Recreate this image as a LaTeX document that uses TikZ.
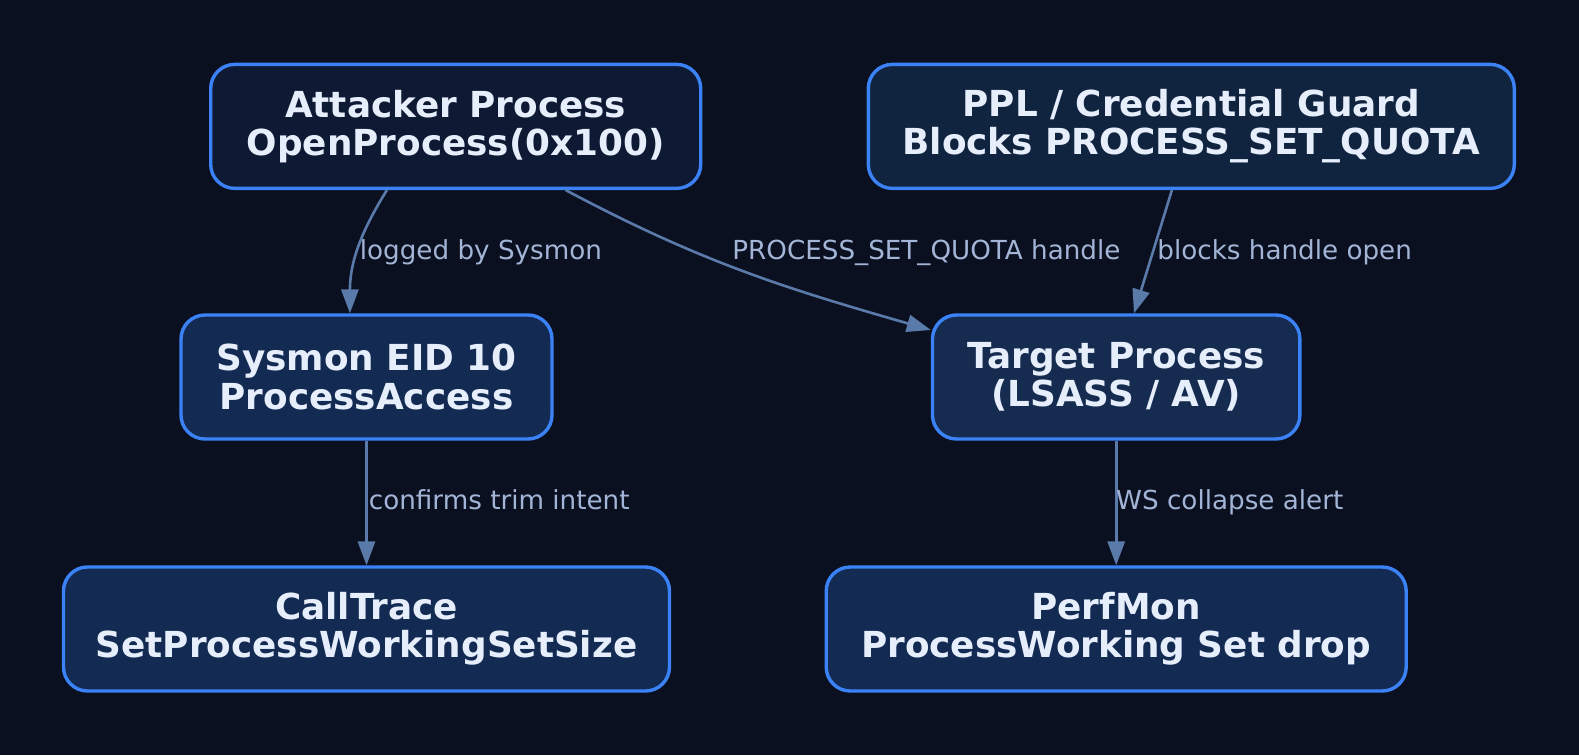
\documentclass[tikz,border=0pt]{standalone}
\usepackage{fontspec}
\setmainfont{DejaVu Sans}
\usetikzlibrary{arrows.meta}

\definecolor{bgdark}{HTML}{0B1020}
\definecolor{boxedge}{HTML}{3B82F6}
\definecolor{fillatk}{HTML}{0E1A33}
\definecolor{fillppl}{HTML}{11243F}
\definecolor{fillmid}{HTML}{132A52}
\definecolor{filltgt}{HTML}{152B4F}
\definecolor{boxtext}{HTML}{E6EEFB}
\definecolor{wire}{HTML}{5A7BAA}
\definecolor{wiretext}{HTML}{A3B5D6}

\tikzset{
  box/.style={draw=boxedge, line width=1.7pt, rounded corners=12pt,
    minimum height=62pt, align=center, text=boxtext,
    font=\fontsize{17.9}{19.2}\selectfont\bfseries},
  wirelabel/.style={anchor=base west, text=wiretext, inner sep=0pt,
    font=\fontsize{13.1}{15}\selectfont},
  flow/.style={draw=wire, line width=1.3pt,
    -{Triangle[length=12pt, width=8.6pt]}}
}

\begin{document}
\begin{tikzpicture}[x=0.5pt, y=-0.5pt]
            \def\xl{366.5};
            \def\xr{1116.2};
            \def\xatk{455.7};
            \def\xppl{1191.3};

            \def \ya{126.4};
            \def \yb{377};
            \def \yc{629};
            \def \yt{259};
            \def \ys{509};

            \fill[bgdark] (0,0) rectangle (1579,755);

            \node[box, fill=fillatk, minimum width=245pt] (atk) at (\xatk, \ya) {Attacker Process\\OpenProcess(0x100)};
            \node[box, fill=fillppl, minimum width=323pt] (ppl) at (\xppl, \ya) {PPL / Credential Guard\\Blocks PROCESS\_SET\_QUOTA};

            \node[box, fill=fillmid, minimum width=185.5pt] (sysmon) at (\xl, \yb) {Sysmon EID 10\\ProcessAccess};
            \node[box, fill=filltgt, minimum width=183.7pt] (target) at (\xr, \yb) {Target Process\\(LSASS / AV)};

            \node[box, fill=fillmid, minimum width=303pt] (calltrace) at (\xl, \yc) {CallTrace\\SetProcessWorkingSetSize};
            \node[box, fill=fillmid, minimum width=290pt] (perfmon) at (\xr, \yc) {PerfMon\\ProcessWorking Set drop};

            \draw[flow] ([xshift=-34.4pt]atk.south) to[out=-122, in=90] ([xshift=-8.3pt]sysmon.north);
            \draw[flow] ([xshift=55pt]atk.south) to[out=-28, in=164] ([yshift=23.5pt]target.west);
            \draw[flow] ([xshift=-9.7pt]ppl.south) -- ([xshift=8.9pt]target.north);
            \draw[flow] (sysmon.south) -- (calltrace.north);
            \draw[flow] (target.south) -- (perfmon.north);

            \node[wirelabel] (l1) at (359.5, \yt) {logged by Sysmon};
            \node[wirelabel] (l2) at (732, \yt) {PROCESS\_SET\_QUOTA handle};
            \node[wirelabel] (l3) at (1157, \yt) {blocks handle open};
            \node[wirelabel] (l4) at (368.5, \ys) {confirms trim intent};
            \node[wirelabel] (l5) at (1115.8, \ys) {WS collapse alert};

        \end{tikzpicture}
\end{document}
